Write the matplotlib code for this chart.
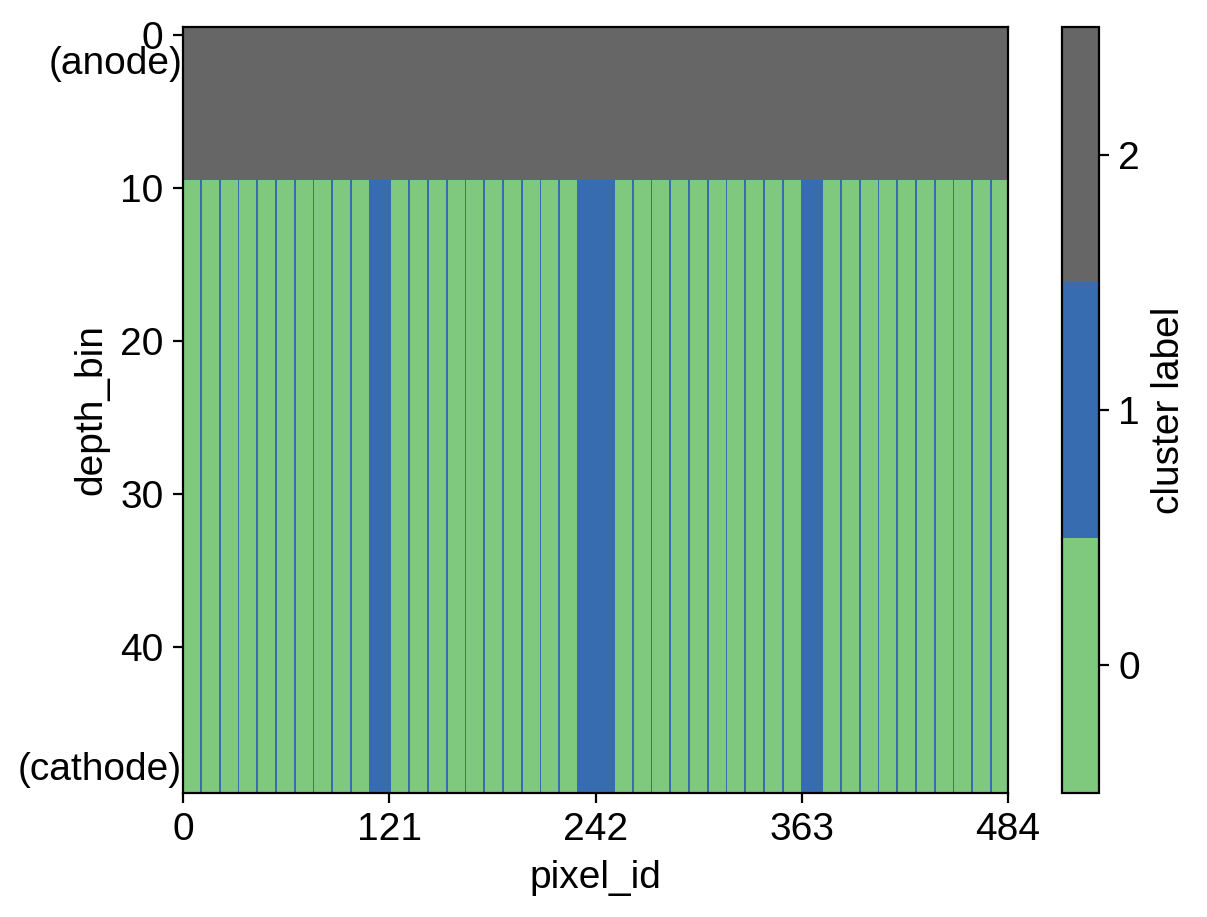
import numpy as np
import matplotlib
matplotlib.use("Agg")
import matplotlib.pyplot as plt
from matplotlib.colors import ListedColormap
from matplotlib.transforms import blended_transform_factory

plt.rcParams['font.family'] = ['Liberation Sans', 'DejaVu Sans']
plt.rcParams['font.size'] = 14

# ---- data ----
n_pixels = 484
n_depth = 50
anode_rows = 10                      # depth bins 0..9 -> cluster 2
thin_blue_cols = [10, 21, 32, 43, 54, 65, 76, 87, 98,
                  132, 143, 154, 165, 176, 187, 198, 209, 220,
                  263, 274, 285, 296, 307, 318, 329, 340, 351,
                  385, 396, 407, 418, 429, 440, 451, 462, 473]
blue_bands = [(109, 121), (231, 252), (362, 374)]   # inclusive column ranges
cluster_colors = ['#7fc97f', '#386cb0', '#666666']
cbar_ticks = [0, 1, 2]
x_ticks = [0, 121, 242, 363, 484]
y_ticks = [0, 10, 20, 30, 40]

# build label matrix
row_labels = np.zeros(n_pixels, dtype=int)
row_labels[thin_blue_cols] = 1
for a, b in blue_bands:
    row_labels[a:b + 1] = 1
labels = np.tile(row_labels, (n_depth, 1))
labels[:anode_rows, :] = 2

# ---- figure ----
fig = plt.figure(figsize=(1207 / 200, 917 / 200), dpi=200)
ax = fig.add_axes([183 / 1207, 1 - 793 / 917, 825 / 1207, 766 / 917])
cax = fig.add_axes([1062 / 1207, 1 - 793 / 917, 37 / 1207, 766 / 917])

cmap = ListedColormap(cluster_colors)
im = ax.imshow(labels, cmap=cmap, vmin=-0.5, vmax=2.5, aspect='auto',
               interpolation='nearest',
               extent=(0, n_pixels, n_depth - 0.5, -0.5))

ax.set_xticks(x_ticks)
ax.set_xticklabels([str(t) for t in x_ticks])
ax.set_yticks(y_ticks)
ax.set_xlabel('pixel_id', fontsize=14)
ax.set_ylabel('depth_bin', fontsize=14)
ax.tick_params(labelsize=14)

trans = blended_transform_factory(ax.transAxes, ax.transData)
ax.text(-0.001, 1.9, '(anode)', transform=trans, ha='right', va='center', fontsize=14)
ax.text(-0.001, 48.0, '(cathode)', transform=trans, ha='right', va='center', fontsize=14)

cb = fig.colorbar(im, cax=cax, ticks=cbar_ticks)
cb.set_label('cluster label', fontsize=14)
cb.ax.tick_params(labelsize=14)

fig.savefig('out.png', dpi=200)
